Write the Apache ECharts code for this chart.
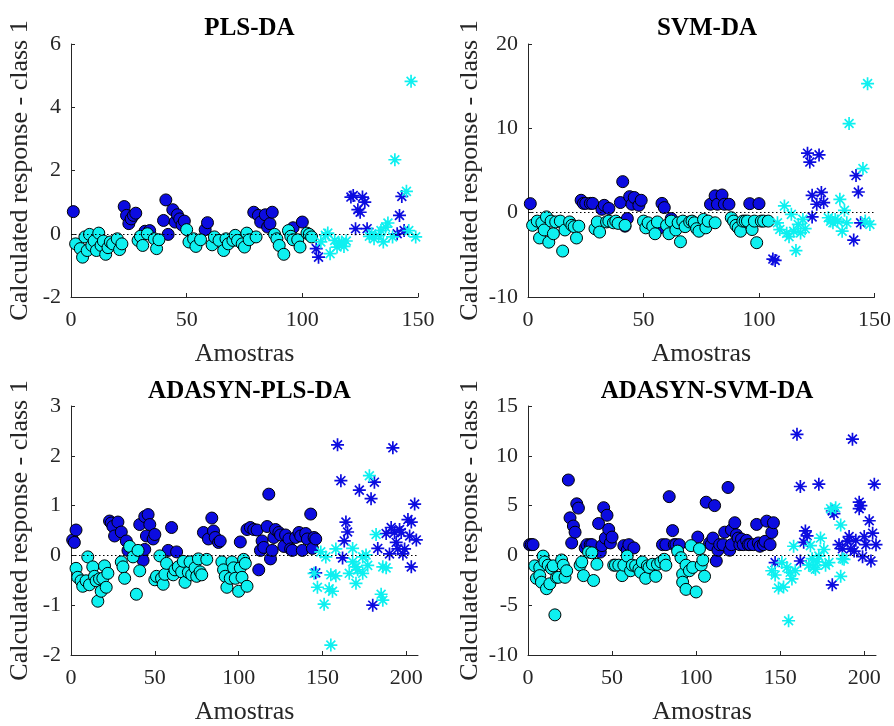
<!DOCTYPE html>
<html>
<head>
<meta charset="utf-8">
<script src="https://cdn.jsdelivr.net/npm/echarts@6/dist/echarts.min.js"></script>
<style>html,body{margin:0;padding:0;background:#fff}#c{width:894px;height:726px}</style>
</head>
<body>
<div id="c"></div>
<script>
// ---------- data (sample index, calculated response) ----------
const titles = ['PLS-DA', 'SVM-DA', 'ADASYN-PLS-DA', 'ADASYN-SVM-DA'];
const xTicksSmall = [0, 50, 100, 150];
const xTicksLarge = [0, 50, 100, 150, 200];

// PLS-DA
const plsTrainC1 = [[1,0.70],[23,0.86],[24,0.58],[25,0.32],[26,0.47],[27,0.58],[28,0.65],[32,0.08],[34,0.10],[40,0.42],[41,1.07],[42,-0.02],[44,0.76],[45,0.37],[46,0.60],[47,0.47],[48,0.28],[49,0.40],[58,0.13],[59,0.35],[79,0.68],[81,0.58],[82,0.37],[84,0.60],[85,0.21],[86,0.32],[87,0.68],[96,0.19],[100,0.37]];
const plsTrainC2 = [[2,-0.32],[4,-0.47],[5,-0.74],[6,-0.10],[7,-0.53],[8,-0.02],[9,-0.37],[10,-0.23],[11,-0.53],[12,0.02],[13,-0.37],[14,-0.23],[15,-0.65],[16,-0.44],[17,-0.26],[18,-0.32],[20,-0.16],[21,-0.50],[22,-0.32],[29,-0.21],[30,-0.08],[31,-0.37],[33,0.00],[36,-0.16],[37,-0.47],[38,-0.19],[50,0.13],[51,-0.26],[53,-0.16],[54,-0.40],[56,-0.19],[61,-0.35],[62,-0.10],[64,-0.21],[66,-0.53],[67,-0.16],[68,-0.32],[70,-0.21],[71,-0.05],[72,-0.21],[74,-0.32],[75,-0.42],[76,0.02],[77,-0.19],[80,-0.10],[88,-0.02],[89,-0.16],[90,-0.37],[92,-0.65],[94,0.10],[95,-0.08],[96,-0.19],[98,-0.19],[99,-0.42],[102,0.02],[103,-0.02],[104,-0.10]];
const plsTestC1 = [[106,-0.47],[107,-0.74],[121,1.16],[122,1.21],[124,0.76],[125,0.68],[126,1.16],[127,1.00],[123,0.16],[128,0.16],[142,0.58],[143,1.18],[141,0.00],[144,0.10]];
const plsTestC2 = [[108,-0.26],[110,-0.05],[111,0.02],[112,-0.63],[114,-0.21],[115,-0.42],[116,-0.32],[117,-0.26],[118,-0.40],[119,-0.23],[129,-0.08],[130,0.00],[131,-0.16],[133,-0.05],[134,0.10],[135,-0.26],[136,0.21],[137,0.34],[139,-0.10],[140,2.34],[145,1.34],[146,0.10],[147,4.82],[149,-0.10]];

// SVM-DA
const svmTrainC1 = [[1,1.07],[23,1.47],[24,1.10],[25,1.10],[27,1.10],[28,1.10],[32,0.40],[33,0.87],[35,0.50],[40,1.20],[41,3.68],[43,-0.70],[42,-1.60],[44,1.90],[45,1.00],[46,1.80],[48,0.87],[49,1.47],[58,1.10],[59,0.60],[57,-1.80],[62,-0.70],[79,1.00],[81,2.00],[82,1.00],[84,2.10],[85,1.00],[87,1.00],[96,1.07],[100,1.07]];
const svmTrainC2 = [[2,-1.5],[4,-1.0],[5,-3.0],[6,-1.2],[7,-2.05],[8,-0.5],[9,-3.5],[10,-1.0],[11,-2.5],[12,-1.1],[14,-1.0],[15,-4.55],[16,-2.05],[18,-1.1],[19,-1.5],[20,-1.66],[21,-3.0],[22,-1.6],[29,-1.9],[30,-1.1],[31,-2.3],[34,-1.1],[35,-1.0],[37,-1.2],[38,-1.0],[39,-1.27],[42,-1.5],[50,-1.0],[51,-1.8],[52,-1.2],[54,-1.6],[55,-2.5],[56,-1.1],[60,-1.5],[61,-2.5],[62,-1.0],[64,-2.05],[65,-1.2],[66,-3.45],[67,-1.0],[68,-1.66],[70,-1.1],[71,-1.0],[72,-1.2],[73,-1.9],[74,-2.2],[76,-0.8],[77,-1.8],[78,-1.0],[81,-1.2],[88,-0.6],[89,-1.0],[90,-1.5],[91,-1.8],[92,-2.2],[93,-1.0],[94,-1.0],[95,-1.0],[97,-2.0],[98,-1.0],[99,-3.56],[101,-1.0],[102,-1.0],[104,-1.0]];
const svmTestC1 = [[106,-5.5],[107,-5.66],[121,7.05],[122,6.0],[126,6.85],[123,2.06],[125,1.0],[127,2.4],[128,1.2],[123,-0.5],[142,4.4],[143,2.45],[141,-3.25],[144,-1.2]];
const svmTestC2 = [[108,-1.2],[109,-2.0],[111,0.8],[112,-2.45],[113,-2.85],[114,-0.2],[115,-2.2],[116,-4.5],[117,-1.4],[118,-2.4],[119,-0.8],[120,-1.9],[130,-0.6],[131,-1.0],[132,-1.2],[133,-0.8],[134,-1.0],[135,1.58],[136,-2.2],[137,0.28],[138,-1.2],[139,10.57],[145,5.23],[146,-1.0],[147,15.3],[148,-1.4]];

// ADASYN-PLS-DA
const adaPlsTrainC1 = [[1,0.31],[2,0.26],[3,0.51],[23,0.69],[24,0.65],[25,0.58],[26,0.39],[28,0.67],[30,0.47],[33,0.29],[34,0.10],[41,0.62],[43,-0.10],[44,0.12],[44,0.78],[46,0.82],[45,0.39],[47,0.62],[49,0.33],[50,0.42],[58,0.10],[60,0.56],[63,0.07],[79,0.46],[82,0.33],[84,0.75],[85,0.49],[86,0.36],[88,0.26],[89,0.29],[101,0.27],[105,0.52],[107,0.56],[109,0.52],[111,0.51],[112,-0.29],[113,0.10],[114,0.29],[115,0.16],[117,0.58],[118,1.23],[119,-0.07],[120,0.10],[121,0.36],[122,0.52],[124,0.46],[125,0.41],[127,0.18],[128,0.41],[130,0.33],[131,0.13],[132,0.10],[134,0.36],[136,0.46],[137,0.39],[138,0.10],[140,0.44],[141,0.33],[143,0.83],[144,0.14],[145,0.36],[146,0.33]];
const adaPlsTrainC2 = [[3,-0.26],[4,-0.44],[6,-0.51],[7,-0.62],[9,-0.51],[10,-0.03],[11,-0.59],[13,-0.23],[14,-0.42],[15,-0.51],[16,-0.92],[17,-0.47],[18,-0.72],[19,-0.46],[20,-0.21],[21,-0.64],[22,-0.36],[30,-0.13],[31,-0.23],[32,-0.46],[35,0.18],[37,-0.03],[39,-0.78],[40,0.10],[41,-0.31],[50,-0.49],[51,-0.42],[53,-0.01],[54,-0.46],[55,-0.58],[56,-0.38],[57,-0.16],[61,-0.39],[62,-0.29],[64,-0.23],[66,-0.33],[67,-0.12],[68,-0.54],[70,-0.34],[71,-0.13],[72,-0.39],[74,-0.25],[75,-0.42],[76,-0.07],[77,-0.33],[78,-0.39],[81,-0.08],[90,-0.13],[91,-0.29],[92,-0.42],[93,-0.64],[95,-0.46],[96,-0.13],[97,-0.25],[98,-0.46],[100,-0.72],[101,-0.25],[102,-0.44],[103,-0.08],[104,-0.16],[105,-0.62]];
const adaPlsTestC1 = [[146,-0.35],[159,2.22],[161,1.50],[162,-0.05],[164,0.67],[165,0.47],[163,0.29],[172,1.31],[179,1.14],[181,1.47],[180,-1.00],[183,0.14],[188,0.44],[190,0.03],[191,0.56],[192,2.16],[193,0.46],[194,0.26],[195,0.13],[196,0.52],[197,0.46],[198,0.03],[199,0.13],[201,0.72],[202,0.39],[203,0.67],[203,-0.23],[205,1.03],[206,0.31]];
const adaPlsTestC2 = [[145,-0.36],[147,-0.64],[149,0.07],[152,-0.03],[151,-0.98],[154,-0.67],[155,-1.80],[156,-0.72],[155,-0.39],[158,0.13],[158,-0.41],[166,-0.36],[168,0.14],[168,-0.13],[170,-0.23],[170,-0.56],[171,-0.29],[174,-0.36],[174,-0.03],[176,0.01],[177,-0.20],[178,1.60],[182,0.42],[185,-0.78],[186,-0.90],[186,-0.23],[188,-0.25]];

// ADASYN-SVM-DA
const adaSvmTrainC1 = [[1,1.08],[2,1.08],[3,1.08],[24,7.57],[25,3.77],[26,1.25],[27,2.95],[28,2.33],[29,5.18],[30,4.75],[34,0.75],[35,1.08],[37,1.08],[38,1.08],[42,3.2],[43,0.33],[44,0.98],[45,4.79],[46,1.74],[47,4.03],[48,2.62],[49,1.25],[50,1.84],[57,0.98],[59,0.52],[60,1.08],[63,0.75],[80,1.08],[82,1.08],[84,5.9],[86,2.49],[87,1.08],[88,1.08],[90,1.08],[101,1.84],[106,5.34],[108,1.25],[109,1.08],[110,1.74],[111,5.0],[112,-0.56],[113,0.52],[114,1.08],[116,1.08],[117,2.33],[119,6.82],[120,0.52],[121,1.08],[121,2.56],[123,3.28],[124,2.07],[125,1.74],[126,1.08],[127,1.64],[128,1.08],[130,1.51],[131,1.08],[132,1.08],[134,1.08],[136,3.11],[137,1.25],[138,0.92],[140,1.08],[141,1.41],[142,3.44],[144,1.08],[145,2.3],[146,3.28]];
const adaSvmTrainC2 = [[4,-1.05],[5,-2.3],[7,-1.21],[7,-2.03],[8,-2.69],[9,-0.07],[10,-0.66],[11,-3.34],[12,-0.98],[13,-2.85],[14,-1.31],[15,-1.05],[16,-5.97],[17,-2.2],[18,-2.2],[20,-0.46],[21,-0.98],[22,-2.2],[23,-1.54],[31,-0.98],[32,-0.66],[33,-2.03],[36,0.33],[38,0.26],[39,-2.52],[41,-0.89],[51,-0.98],[52,-0.98],[54,-0.98],[56,-2.03],[57,-0.98],[59,-0.07],[61,-1.54],[62,-0.98],[64,-1.05],[66,-1.38],[67,-1.7],[68,-0.66],[70,-2.3],[71,-1.05],[72,-1.21],[74,-0.89],[76,-2.1],[77,-0.89],[79,-0.66],[81,-0.39],[82,-0.98],[89,0.43],[91,-0.23],[92,-1.87],[92,-2.69],[94,-3.41],[94,-0.98],[96,-1.54],[97,0.98],[98,-1.21],[100,-3.67],[102,0.66],[103,-0.98],[104,-0.46],[105,-2.1]];
const adaSvmTestC1 = [[147,-0.72],[160,12.16],[162,6.92],[162,-0.56],[164,1.31],[165,2.46],[166,1.97],[173,7.15],[181,4.46],[182,4.2],[181,-2.95],[185,1.08],[187,0.66],[190,1.41],[191,1.9],[192,0.66],[193,11.67],[194,0.43],[195,1.51],[197,5.34],[197,4.69],[198,5.0],[199,-0.13],[200,1.9],[201,1.08],[203,3.48],[204,-0.56],[205,2.23],[206,7.15],[207,1.08]];
const adaSvmTestC2 = [[145,-1.54],[147,-1.97],[149,-3.28],[151,-0.72],[152,-3.18],[154,-1.21],[155,-6.56],[156,-1.7],[157,-2.36],[158,0.92],[159,-1.54],[167,-0.98],[168,0.98],[169,-0.33],[170,-1.21],[171,-1.38],[172,-0.66],[173,-0.07],[174,1.74],[176,0.59],[177,-0.98],[179,-0.72],[180,4.69],[183,4.79],[186,-2.1],[186,3.05],[187,-0.33],[188,-0.39]];

// axis ranges
const xRanges = [[0,150,50],[0,150,50],[0,207,50],[0,207,50]];
const yRanges = [[-2,6,2],[-10,20,10],[-2,3,1],[-10,15,5]];

// ---------- chart ----------
const FONT = "'Liberation Serif','Times New Roman',serif";
const TXT = '#262626';
const BLUE = '#0c0ce0';
const CYAN = '#0ef0f0';
const STAR = 'path://M0,6L12,6M6,0L6,12M1.9,1.9L10.1,10.1M10.1,1.9L1.9,10.1';

const grids = [
  {left:71, top:44, width:347, height:253},
  {left:528, top:44, width:348, height:253},
  {left:71, top:406, width:347, height:254},
  {left:528, top:406, width:348, height:254}
];
const yNameGap = [38, 45, 38, 45];

const groups = [
  [plsTrainC1, plsTrainC2, plsTestC1, plsTestC2],
  [svmTrainC1, svmTrainC2, svmTestC1, svmTestC2],
  [adaPlsTrainC1, adaPlsTrainC2, adaPlsTestC1, adaPlsTestC2],
  [adaSvmTrainC1, adaSvmTrainC2, adaSvmTestC1, adaSvmTestC2]
];

const xAxis = [], yAxis = [], series = [], title = [];
grids.forEach((g, i) => {
  const xr = xRanges[i], yr = yRanges[i];
  const xt = xr[1] === 150 ? xTicksSmall : xTicksLarge;
  xAxis.push({
    gridIndex: i, type: 'value', min: xr[0], max: xr[1], interval: xr[2],
    name: 'Amostras', nameLocation: 'middle', nameGap: 44,
    nameTextStyle: {fontFamily: FONT, fontSize: 26, color: TXT},
    axisLine: {show: true, onZero: false, lineStyle: {color: TXT, width: 1}},
    axisTick: {show: true, inside: true, length: 4, lineStyle: {color: TXT}, customValues: xt},
    axisLabel: {fontFamily: FONT, fontSize: 22, color: TXT, margin: 12, customValues: xt},
    splitLine: {show: false}
  });
  yAxis.push({
    gridIndex: i, type: 'value', min: yr[0], max: yr[1], interval: yr[2],
    name: 'Calculated response - class 1', nameLocation: 'middle', nameGap: yNameGap[i], nameRotate: 90,
    nameTextStyle: {fontFamily: FONT, fontSize: 26, color: TXT},
    axisLine: {show: true, onZero: false, lineStyle: {color: TXT, width: 1}},
    axisTick: {show: true, inside: true, length: 4, lineStyle: {color: TXT}},
    axisLabel: {fontFamily: FONT, fontSize: 22, color: TXT, margin: 10},
    splitLine: {show: false}
  });
  title.push({
    text: titles[i], left: g.left + g.width / 2, top: i < 2 ? 11 : 374, textAlign: 'center',
    textStyle: {fontFamily: FONT, fontSize: 25, fontWeight: 'bold', color: '#000'}
  });
  const d = groups[i];
  series.push({
    type: 'scatter', xAxisIndex: i, yAxisIndex: i, data: d[0], symbol: 'circle', symbolSize: 12,
    itemStyle: {color: BLUE, borderColor: '#000', borderWidth: 1, opacity: 1},
    markLine: {silent: true, symbol: 'none', animation: false, label: {show: false},
      lineStyle: {type: [1.5, 2.5], color: '#000', width: 1}, data: [{yAxis: 0}]}
  });
  series.push({
    type: 'scatter', xAxisIndex: i, yAxisIndex: i, data: d[1], symbol: 'circle', symbolSize: 12,
    itemStyle: {color: CYAN, borderColor: '#000', borderWidth: 1, opacity: 1}
  });
  series.push({
    type: 'scatter', xAxisIndex: i, yAxisIndex: i, data: d[2], symbol: STAR, symbolSize: 13,
    itemStyle: {color: BLUE, borderColor: BLUE, borderWidth: 1.7, opacity: 1}
  });
  series.push({
    type: 'scatter', xAxisIndex: i, yAxisIndex: i, data: d[3], symbol: STAR, symbolSize: 13,
    itemStyle: {color: CYAN, borderColor: CYAN, borderWidth: 1.7, opacity: 1}
  });
});

const chart = echarts.init(document.getElementById('c'), null, {renderer: 'canvas'});
chart.setOption({
  animation: false,
  backgroundColor: '#fff',
  title, grid: grids, xAxis, yAxis, series
});
</script>
</body>
</html>
